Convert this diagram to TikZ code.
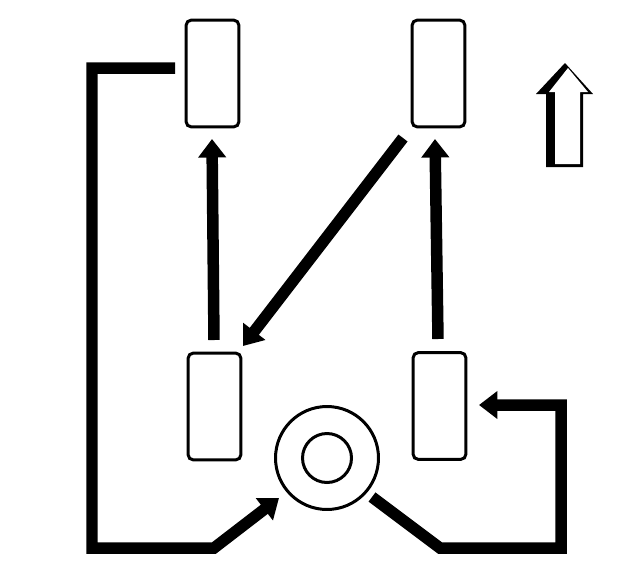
\documentclass[tikz,border=0pt]{standalone}
\usetikzlibrary{arrows.meta}
\tikzset{
  tire/.style={draw, line width=0.06cm, rounded corners=0.11cm, minimum width=1.06cm, minimum height=2.14cm, inner sep=0pt},
  flow/.style={line width=0.23cm, line join=miter, -{Triangle[length=0.37cm, width=0.54cm]}},
  hub/.style={draw, circle, line width=0.06cm, inner sep=0pt}
}
\begin{document}
\begin{tikzpicture}[x=0.02cm,y=-0.02cm]
\useasboundingbox (0,0) rectangle (640,562);
\node[tire] (tl) at (212.5,73.5) {};
\node[tire] (tr) at (438.5,73.5) {};
\node[tire] (bl) at (214.5,406.5) {};
\node[tire] (br) at (439.5,406) {};
\node[hub, minimum size=2.06cm] (outer) at (327,458) {};
\node[hub, minimum size=0.98cm] (inner) at (327,458) {};

\coordinate (blTop) at (214,340);
\coordinate (tlArrow) at (212,139);
\coordinate (brTop) at (438,339);
\coordinate (trArrow) at (435,139);
\coordinate (trOut) at (403,138);
\coordinate (blArrow) at (243,346);
\coordinate (tlOut) at (175,68);
\coordinate (hubIn) at (279,498);
\coordinate (hubOut) at (372,497);
\coordinate (brArrow) at (479,405);

\draw[flow] (blTop) -- (tlArrow);
\draw[flow] (brTop) -- (trArrow);
\draw[flow] (trOut) -- (blArrow);
\draw[flow] (tlOut) -- (92,68) -- (92,548) -- (214,548) -- (hubIn);
\draw[flow] (hubOut) -- (440,548) -- (561,548) -- (561,405) -- (brArrow);

% direction arrow
\fill (565,63) -- (593,94) -- (583,94) -- (583,167) -- (546,167) -- (546,94) -- (536,94) -- cycle;
\fill[white] (568,68) -- (588,92) -- (580,92) -- (580,164) -- (555,164) -- (555,92) -- (549,92) -- cycle;
\end{tikzpicture}
\end{document}
